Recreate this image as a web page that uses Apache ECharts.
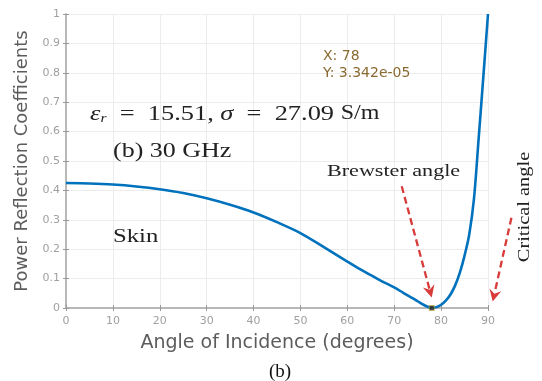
<!DOCTYPE html>
<html>
<head>
<meta charset="utf-8">
<script src="https://cdn.jsdelivr.net/npm/echarts@6/dist/echarts.min.js"></script>
<style>html,body{margin:0;padding:0;background:#fff}#c{width:542px;height:381px}</style>
</head>
<body>
<div id="c"></div>
<script>
// Angle of incidence (degrees) and power reflection coefficient
const angles = [0, 5, 10, 15, 20, 25, 30, 35, 40, 45, 50, 55, 60, 62.5, 65, 67.5, 70, 72, 74, 75, 76, 77, 78, 79, 80, 81, 82, 83, 84, 85, 86, 87, 88, 89, 90];
const reflection = [0.425, 0.4235, 0.42, 0.4135, 0.404, 0.391, 0.373, 0.351, 0.325, 0.292, 0.255, 0.207, 0.158, 0.134, 0.112, 0.09, 0.07, 0.051, 0.033, 0.023, 0.013, 0.005, 0.00003342, 0.003, 0.011, 0.025, 0.046, 0.077, 0.12, 0.178, 0.25, 0.37, 0.575, 0.785, 1.0];
const xTicks = [0, 10, 20, 30, 40, 50, 60, 70, 80, 90];
const yTicks = [0, 0.1, 0.2, 0.3, 0.4, 0.5, 0.6, 0.7, 0.8, 0.9, 1];
const datatip = [78, 3.342e-05];
// Arrow annotations (data space): [from, to]
const brewsterArrow = [[71.6, 0.414], [78.0, 0.036]];
const criticalArrow = [[95.0, 0.307], [91.0, 0.022]];

const chart = echarts.init(document.getElementById('c'), null, {renderer: 'canvas'});
const gridCol = '#ececec';
const axisCol = '#b4b4b4';
const labCol = '#a0a0a0';
const sans = '"DejaVu Sans", "Liberation Sans", Arial';
const serif = '"Liberation Serif", "DejaVu Serif", serif';

const option = {
  animation: false,
  backgroundColor: '#fff',
  grid: {left: 66, right: 54, top: 14, bottom: 73},
  xAxis: [{
    type: 'value', min: 0, max: 90, interval: 10,
    name: 'Angle of Incidence (degrees)', nameLocation: 'middle', nameGap: 26,
    nameTextStyle: {fontFamily: sans, fontSize: 19, color: '#5c5c5c'},
    axisLine: {show: true, lineStyle: {color: axisCol, width: 1.5}},
    axisTick: {show: true, inside: true, length: 3, lineStyle: {color: '#999'}},
    axisLabel: {color: labCol, fontSize: 11, margin: 8, fontFamily: sans},
    splitLine: {show: true, lineStyle: {color: gridCol}}
  }, {
    type: 'value', min: 0, max: 90, interval: 10, position: 'top',
    axisLine: {show: true, lineStyle: {color: axisCol, width: 1.5}},
    axisTick: {show: true, inside: true, length: 3, lineStyle: {color: '#999'}},
    axisLabel: {show: false}, splitLine: {show: false}
  }],
  yAxis: [{
    type: 'value', min: 0, max: 1, interval: 0.1,
    name: 'Power Reflection Coefficients', nameLocation: 'middle', nameGap: 25,
    nameTextStyle: {fontFamily: sans, fontSize: 18, color: '#5c5c5c'},
    axisLine: {show: true, lineStyle: {color: axisCol, width: 1.5}},
    axisTick: {show: true, inside: true, length: 3, lineStyle: {color: '#999'}},
    axisLabel: {color: labCol, fontSize: 11, margin: 6, fontFamily: sans,
      formatter: v => String(Math.round(v * 10) / 10)},
    splitLine: {show: true, lineStyle: {color: gridCol}}
  }, {
    type: 'value', min: 0, max: 1, interval: 0.1, position: 'right',
    axisLine: {show: true, lineStyle: {color: axisCol, width: 1.5}},
    axisTick: {show: true, inside: true, length: 3, lineStyle: {color: '#999'}},
    axisLabel: {show: false}, splitLine: {show: false}
  }],
  series: [{
    type: 'line',
    data: angles.map((a, i) => [a, reflection[i]]),
    smooth: 0.3,
    showSymbol: false,
    lineStyle: {color: '#0072BD', width: 2.6},
    z: 3
  }, {
    type: 'scatter',
    data: [datatip],
    symbol: 'rect', symbolSize: 5,
    itemStyle: {color: '#2b2b1a', borderColor: '#c8b040', borderWidth: 0.8},
    z: 4
  }]
};
chart.setOption(option);

function arrow(pair, col) {
  const p0 = chart.convertToPixel({gridIndex: 0}, pair[0]);
  const p1 = chart.convertToPixel({gridIndex: 0}, pair[1]);
  const dx = p1[0] - p0[0], dy = p1[1] - p0[1];
  const L = Math.hypot(dx, dy), ux = dx / L, uy = dy / L;
  const hl = 12, hw = 6;
  const bx = p1[0] - ux * hl, by = p1[1] - uy * hl;
  return [{
    type: 'line', shape: {x1: p0[0], y1: p0[1], x2: bx + ux * 3, y2: by + uy * 3},
    style: {stroke: col, lineWidth: 2.3, lineDash: [7, 4]}, z: 10
  }, {
    type: 'polygon',
    shape: {points: [[p1[0], p1[1]], [bx - uy * hw, by + ux * hw], [bx + ux * 4, by + uy * 4], [bx + uy * hw, by - ux * hw]]},
    style: {fill: col}, z: 10
  }];
}
const red = '#d93a3a';
const graphics = [].concat(arrow(brewsterArrow, red), arrow(criticalArrow, red));
graphics.push(
  {type: 'text', x: 323, y: 49, style: {text: 'X: ' + datatip[0], font: '14px ' + sans, fill: '#8a6a30'}, z: 10},
  {type: 'text', x: 323, y: 66, style: {text: 'Y: ' + datatip[1].toExponential(3).replace('e-5', 'e-05'), font: '14px ' + sans, fill: '#8a6a30'}, z: 10},
  {type: 'text', x: 90, y: 103, scaleX: 1.2, style: {
    text: '{e|ε}{s|r}{n|  =  15.51, }{e|σ}{n|  =  27.09 }{u|S/m}',
    rich: {
      e: {fontFamily: serif, fontStyle: 'italic', fontSize: 22, fill: '#222'},
      s: {fontFamily: serif, fontStyle: 'italic', fontSize: 13, fill: '#222', verticalAlign: 'bottom', padding: [8, 0, 0, 0]},
      n: {fontFamily: serif, fontSize: 22, fill: '#222'},
      u: {fontFamily: serif, fontSize: 20, fill: '#222'}
    }}, z: 10},
  {type: 'text', x: 113, y: 142, scaleX: 1.3, style: {text: '(b) 30 GHz', font: '20px ' + serif, fill: '#222'}, z: 10},
  {type: 'text', x: 113, y: 228, scaleX: 1.3, style: {text: 'Skin', font: '19px ' + serif, fill: '#222'}, z: 10},
  {type: 'text', x: 327, y: 163, scaleX: 1.3, style: {text: 'Brewster angle', font: '17px ' + serif, fill: '#222'}, z: 10},
  {type: 'text', x: 525, y: 207, rotation: Math.PI / 2, scaleX: 1.2, style: {text: 'Critical angle', font: '17px ' + serif, fill: '#222', align: 'center', verticalAlign: 'middle'}, z: 10},
  {type: 'text', x: 280, y: 372, style: {text: '(b)', font: '19px ' + serif, fill: '#111', align: 'center', verticalAlign: 'middle'}, z: 10}
);
chart.setOption({graphic: graphics});
</script>
</body>
</html>
